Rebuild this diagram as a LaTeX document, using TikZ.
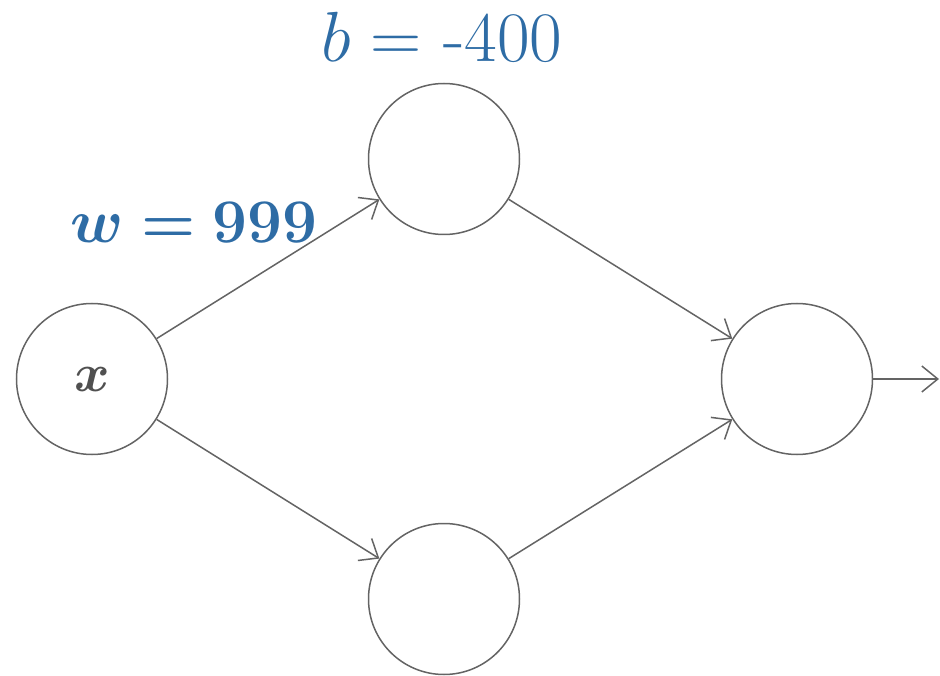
\RequirePackage{fix-cm}
\documentclass[tikz,border=0pt]{standalone}
\usepackage{bm}
\usetikzlibrary{arrows.meta}
\definecolor{lblblue}{RGB}{46,108,165}
\definecolor{linegray}{RGB}{100,100,100}
\tikzset{
  neuron/.style={circle, draw=linegray, line width=1.5pt, minimum size=151pt, inner sep=0pt},
  conn/.style={draw=linegray, line width=1.5pt, -{Straight Barb[length=16pt,width=26pt]}},
  lbl/.style={text=lblblue, anchor=base, inner sep=0pt}
}
\begin{document}
\begin{tikzpicture}[x=1pt,y=-1pt]
\useasboundingbox (0,0) rectangle (940,676);
\node[neuron] (x) at (92,379) {\fontsize{54}{60}\selectfont\color{linegray!80!black}$\bm{x}$};
\node[neuron] (t) at (444,159) {};
\node[neuron] (b) at (444,599) {};
\node[neuron] (o) at (797,379) {};
\coordinate (out) at (939,379);
\draw[conn] (x) -- (t);
\draw[conn] (x) -- (b);
\draw[conn] (t) -- (o);
\draw[conn] (b) -- (o);
\draw[conn] (o) -- (out);
\node[lbl, font=\fontsize{71}{80}\selectfont] (bl) at (442,62) {$b=$ -400};
\node[lbl, font=\fontsize{62}{70}\selectfont] (wl) at (194,243) {$\bm{w=999}$};
\end{tikzpicture}
\end{document}
